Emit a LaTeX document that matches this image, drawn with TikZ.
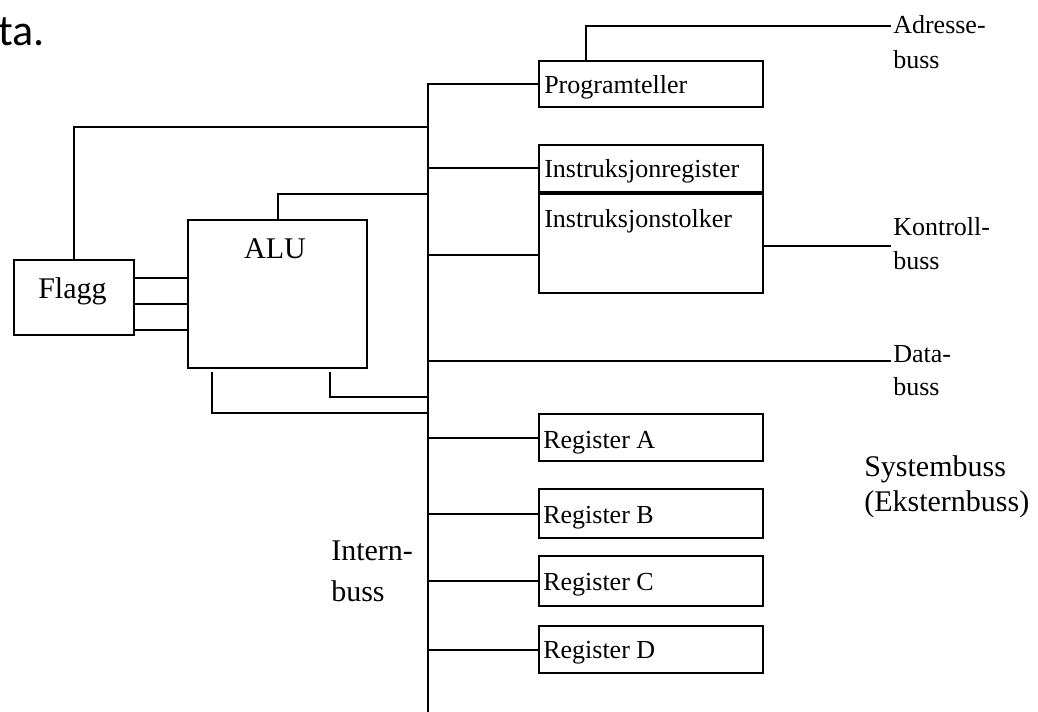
\documentclass[tikz,border=0pt]{standalone}
\usepackage{fontspec}
\setmainfont{Liberation Serif}
\newfontfamily\slidefont{Carlito}
\usetikzlibrary{fit}

\tikzset{
  wire/.style={line width=1.5pt, line cap=rect},
  box/.style={draw, line width=1.5pt, inner sep=0pt},
  lbl/.style={inner sep=0pt, anchor=base west, font=\fontsize{19.5}{22}\selectfont},
  biglbl/.style={inner sep=0pt, anchor=base west, font=\fontsize{22.5}{26}\selectfont},
}

\begin{document}
\begin{tikzpicture}[x=0.75pt, y=-0.75pt]
  \useasboundingbox (0,0) rectangle (1038,711);

  % fragment of the slide text above
  \node[inner sep=0pt, anchor=base west, font=\slidefont\fontsize{33}{36}\selectfont] (slide) at (-2,45) {ta.};

  % register boxes on the right of the internal bus
  \node[box, fit={(539,61) (763,107)}] (pc) {};
  \node[box, fit={(539,145) (763,192)}] (ir) {};
  \node[box, fit={(539,192) (763,293)}] (it) {};
  \node[box, fit={(539,414) (763,461)}] (ra) {};
  \node[box, fit={(539,489) (763,538)}] (rb) {};
  \node[box, fit={(539,556) (763,606)}] (rc) {};
  \node[box, fit={(539,626) (763,673)}] (rd) {};
  \draw[line width=3.5pt] (ir.south west) -- (ir.south east);

  % ALU and flag register
  \node[box, fit={(188,220) (367,368)}] (alu) {};
  \node[box, fit={(14,260) (134,335)}] (flagg) {};

  % box texts
  \node[lbl] (tpc) at (544,93) {Programteller};
  \node[lbl] (tir) at (544,177) {Instruksjonregister};
  \node[lbl] (tit) at (544,227) {Instruksjonstolker};
  \node[lbl] (tra) at (543,448) {Register A};
  \node[lbl] (trb) at (543,523) {Register B};
  \node[lbl] (trc) at (543,590) {Register C};
  \node[lbl] (trd) at (543,658) {Register D};
  \node[biglbl, anchor=base] (talu) at (275,258) {ALU};
  \node[biglbl] (tflagg) at (38,298) {Flagg};

  % bus taps
  \coordinate (busbot) at (428,711);
  \coordinate (tapF) at (428,127);
  \coordinate (tapIR) at (428,168);
  \coordinate (tapA) at (428,194);
  \coordinate (tapIT) at (428,255);
  \coordinate (tapD) at (428,361);
  \coordinate (tapO1) at (428,397);
  \coordinate (tapO2) at (428,413);
  \coordinate (aluo1) at (330,373);
  \coordinate (aluo2) at (212,373);

  % system bus ends
  \coordinate (adr) at (890,26);
  \coordinate (ktr) at (890,246);
  \coordinate (dat) at (890,361);

  % internal bus
  \draw[wire] (pc.west) -| (busbot);
  \draw[wire] (flagg.north) |- (tapF);
  \draw[wire] (tapIR) -- (tapIR -| ir.west);
  \draw[wire] (alu.north) |- (tapA);
  \draw[wire] (tapIT) -- (tapIT -| it.west);
  \draw[wire] (aluo1) |- (tapO1);
  \draw[wire] (aluo2) |- (tapO2);
  \draw[wire] (ra.west -| busbot) -- (ra.west);
  \draw[wire] (rb.west -| busbot) -- (rb.west);
  \draw[wire] (rc.west -| busbot) -- (rc.west);
  \draw[wire] (rd.west -| busbot) -- (rd.west);

  % flag lines
  \draw[wire] (flagg.east |- 0,278) -- (alu.west |- 0,278);
  \draw[wire] (flagg.east |- 0,304) -- (alu.west |- 0,304);
  \draw[wire] (flagg.east |- 0,330) -- (alu.west |- 0,330);

  % system bus
  \draw[wire] (pc.north -| 586,0) |- (adr);
  \draw[wire] (it.east |- ktr) -- (ktr);
  \draw[wire] (tapD) -- (dat);

  % bus names
  \node[lbl] (adr1) at (893,33) {Adresse-};
  \node[lbl] (adr2) at (893,68) {buss};
  \node[lbl] (ktr1) at (893,235) {Kontroll-};
  \node[lbl] (ktr2) at (893,269) {buss};
  \node[lbl] (dat1) at (893,362) {Data-};
  \node[lbl] (dat2) at (893,395) {buss};
  \node[biglbl] (int1) at (331,560) {Intern-};
  \node[biglbl] (int2) at (331,601) {buss};
  \node[biglbl] (sys1) at (864,476) {Systembuss};
  \node[biglbl] (sys2) at (864,511) {(Eksternbuss)};
\end{tikzpicture}
\end{document}
